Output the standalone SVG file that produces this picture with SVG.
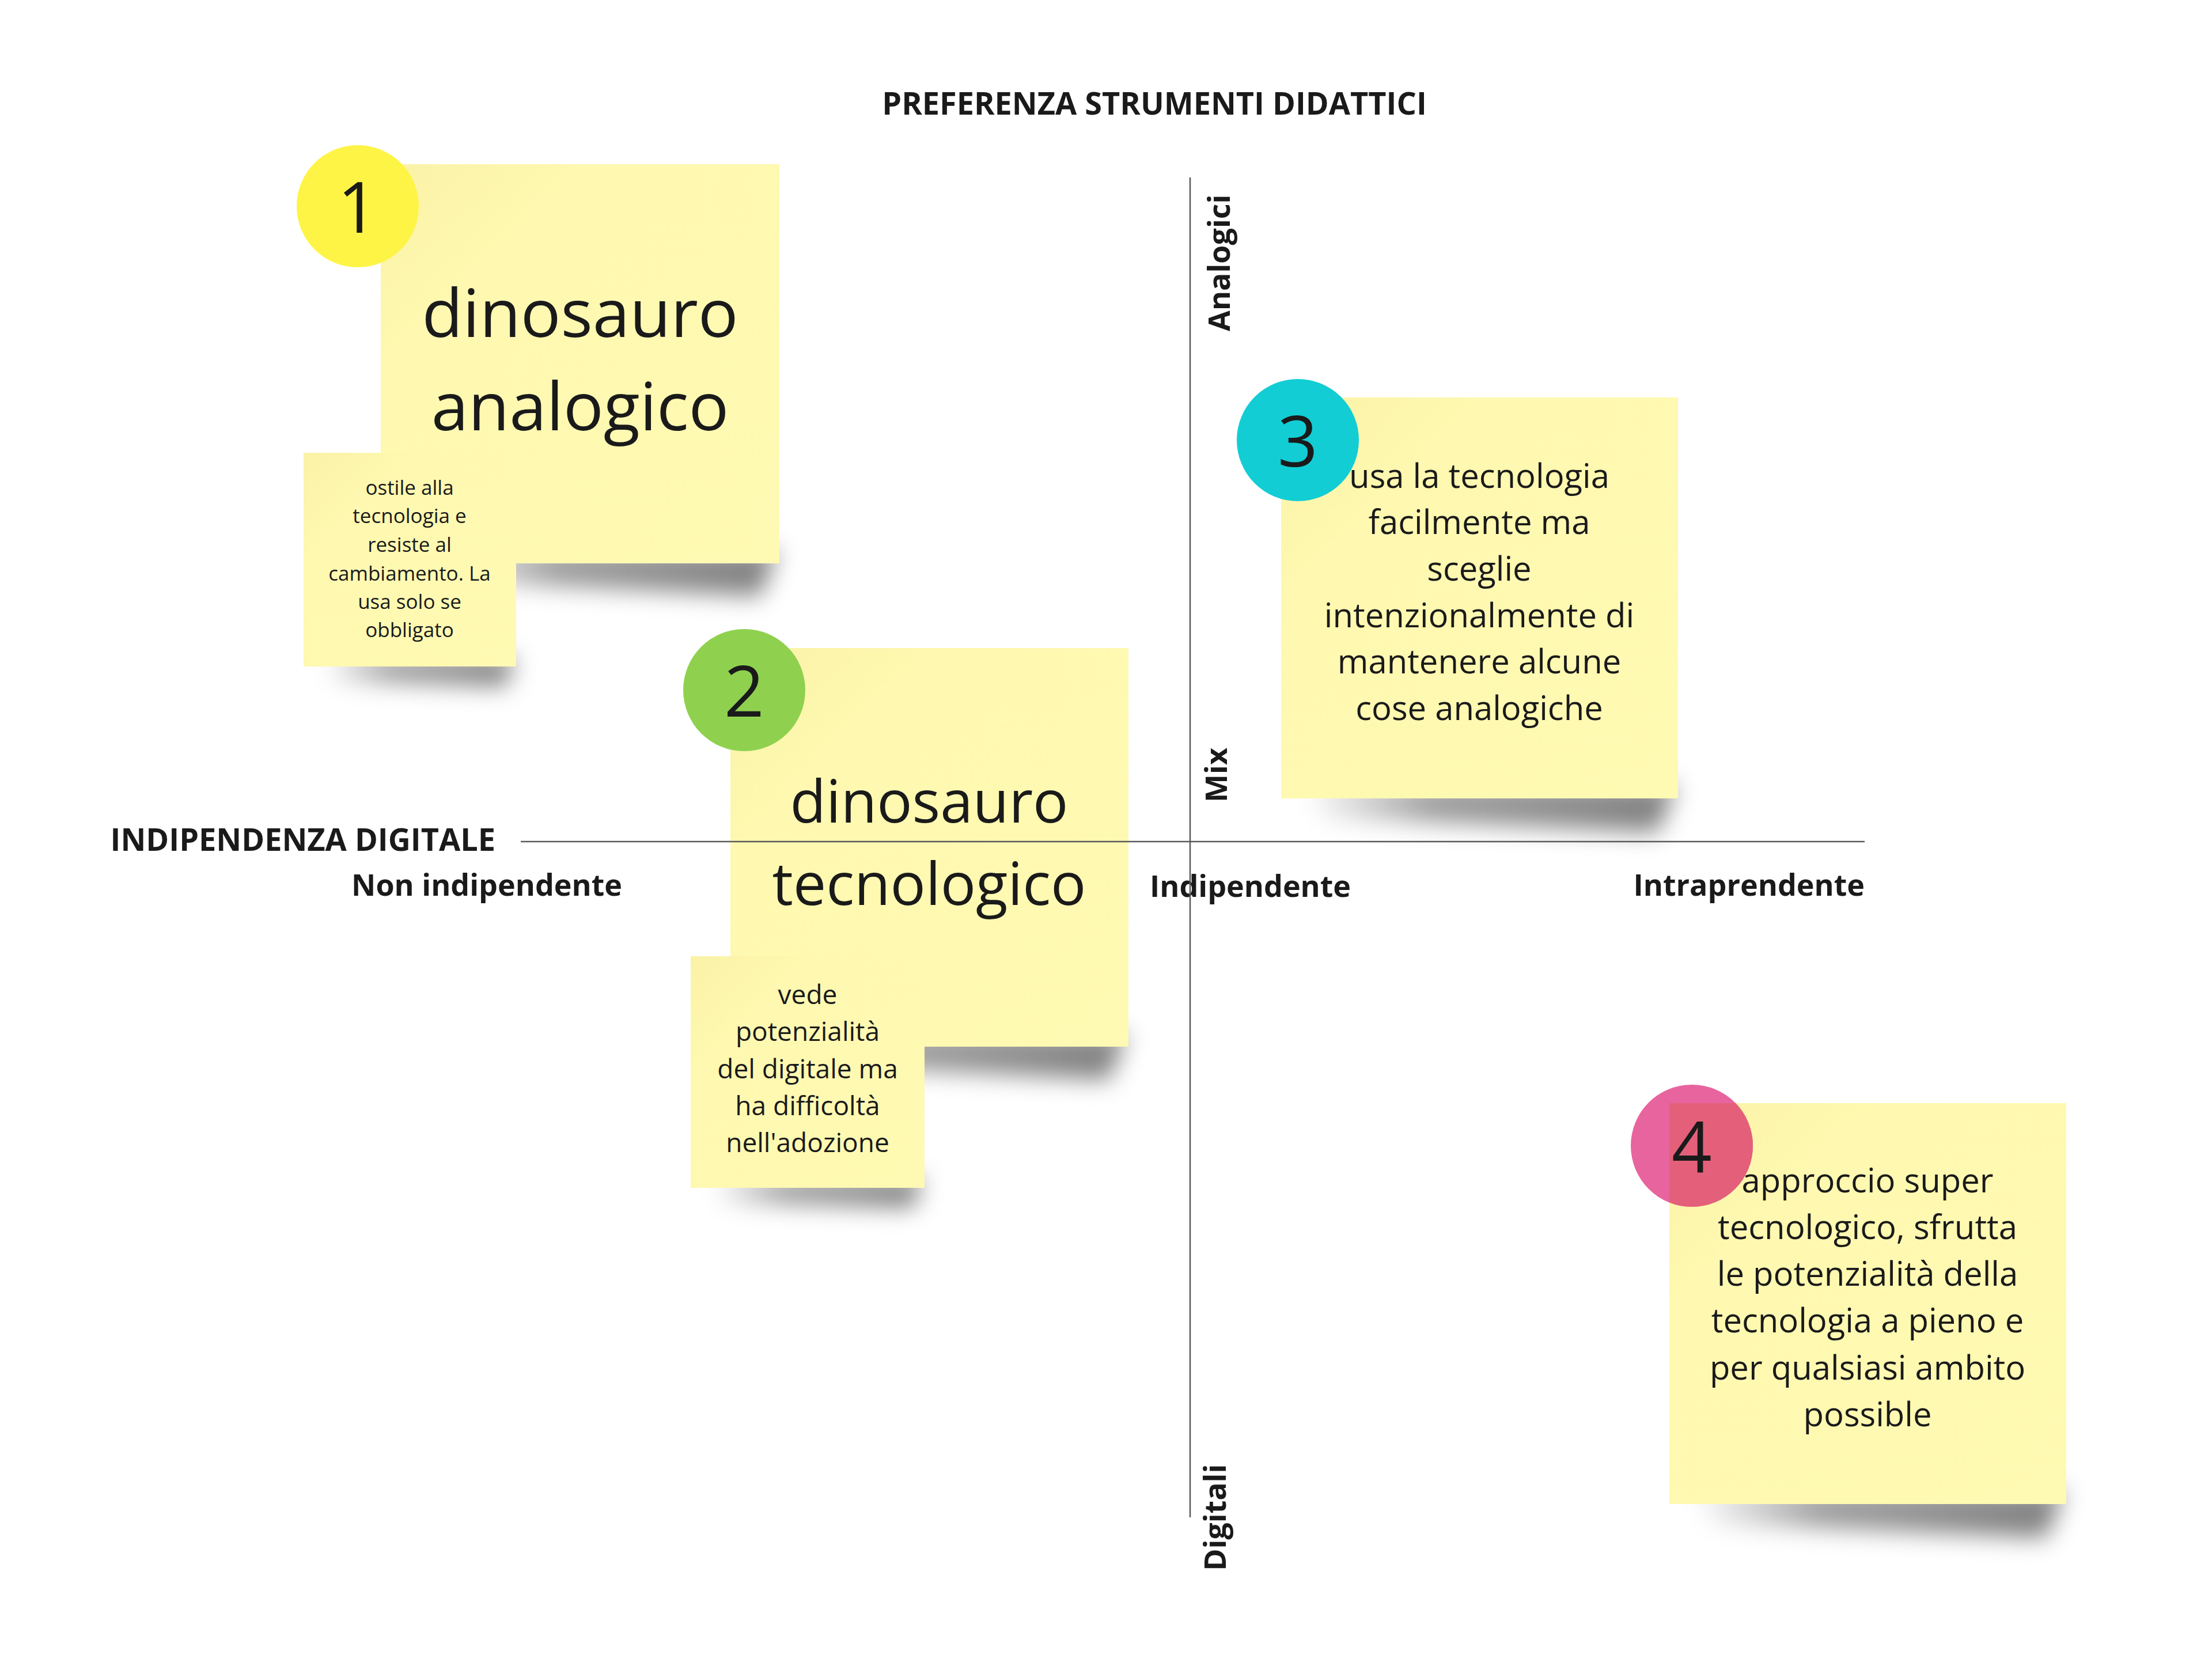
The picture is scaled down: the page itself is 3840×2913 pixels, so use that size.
<svg xmlns="http://www.w3.org/2000/svg" width="3840" height="2913" viewBox="0 0 3840 2913">
<style>
.note{fill:url(#noteFill)}
.shadow{fill:url(#shadowFill);filter:url(#blur)}
.t{font-family:"Open Sans","Liberation Sans",sans-serif;fill:#1a1a1a;text-anchor:middle}
.b{font-family:"Open Sans","Liberation Sans",sans-serif;font-weight:700;fill:#1a1a1a;font-size:52px}
.up{font-size:54px}
.num{font-family:"Open Sans","Liberation Sans",sans-serif;fill:#1a1a1a;font-size:122px;text-anchor:middle}
.axis{stroke:#5a5a5a;stroke-width:2.5;fill:none}
</style>
<defs>
<linearGradient id="noteFill" x1="0" y1="0" x2="1" y2="1">
<stop offset="0" stop-color="#FAF2A6"/>
<stop offset="0.25" stop-color="#FEF8B0"/>
<stop offset="1" stop-color="#FFFAB3"/>
</linearGradient>
<linearGradient id="shadowFill" x1="0" y1="0" x2="1" y2="0">
<stop offset="0" stop-color="#000" stop-opacity="0"/>
<stop offset="0.35" stop-color="#000" stop-opacity="0.38"/>
<stop offset="1" stop-color="#000" stop-opacity="0.5"/>
</linearGradient>
<filter id="blur" x="-20%" y="-150%" width="140%" height="400%">
<feGaussianBlur stdDeviation="20"/>
</filter>
<clipPath id="clip4"><rect x="2898" y="1915" width="689" height="696"/></clipPath>
</defs>
<rect width="3840" height="2913" fill="#fff"/>

<g id="title">
<text class="b up" x="2004" y="199" text-anchor="middle">PREFERENZA STRUMENTI DIDATTICI</text>
</g>

<g id="axis-labels">
<text class="b up" x="860" y="1477" text-anchor="end">INDIPENDENZA DIGITALE</text>
<text class="b" x="1080" y="1555" text-anchor="end">Non indipendente</text>
<text class="b" x="1996" y="1557">Indipendente</text>
<text class="b" x="3237" y="1555" text-anchor="end">Intraprendente</text>
<text class="b" transform="translate(2135,575) rotate(-90)">Analogici</text>
<text class="b" transform="translate(2130,1393) rotate(-90)">Mix</text>
<text class="b" transform="translate(2128,2727) rotate(-90)">Digitali</text>
</g>

<g id="node-1">
<path class="shadow" d="M760 955 L1350 955 L1320 1035 L800 1010 Z"/>
<rect class="note" x="661" y="285" width="692" height="693"/>
<text class="t" font-size="116"><tspan x="1007" y="585">dinosauro</tspan><tspan x="1007" y="747">analogico</tspan></text>
<circle cx="621" cy="358" r="106" fill="#FEF445"/>
<text class="num" x="621" y="404">1</text>
</g>

<g id="node-1-note">
<path class="shadow" d="M560 1140 L894 1140 L878 1192 L585 1182 Z"/>
<rect class="note" x="527" y="786" width="369" height="371"/>
<text class="t" font-size="35"><tspan x="711" y="859">ostile alla</tspan><tspan x="711" y="908">tecnologia e</tspan><tspan x="711" y="958">resiste al</tspan><tspan x="711" y="1008">cambiamento. La</tspan><tspan x="711" y="1057">usa solo se</tspan><tspan x="711" y="1106">obbligato</tspan></text>
</g>

<g id="node-2">
<path class="shadow" d="M1370 1795 L1956 1795 L1925 1875 L1410 1850 Z"/>
<rect class="note" x="1268" y="1125" width="691" height="692"/>
<text class="t" font-size="102"><tspan x="1613" y="1428">dinosauro</tspan><tspan x="1613" y="1571">tecnologico</tspan></text>
<circle cx="1292" cy="1198" r="106" fill="#8FD14F"/>
<text class="num" x="1292" y="1244">2</text>
</g>

<g id="node-2-note">
<path class="shadow" d="M1235 2045 L1602 2045 L1585 2097 L1260 2088 Z"/>
<rect class="note" x="1199" y="1660" width="406" height="402"/>
<text class="t" font-size="46"><tspan x="1402" y="1743">vede</tspan><tspan x="1402" y="1807">potenzialità</tspan><tspan x="1402" y="1872">del digitale ma</tspan><tspan x="1402" y="1936">ha difficoltà</tspan><tspan x="1402" y="2000">nell'adozione</tspan></text>
</g>

<g id="node-3">
<path class="shadow" d="M2260 1363 L2910 1363 L2878 1445 L2300 1420 Z"/>
<rect class="note" x="2224" y="690" width="689" height="696"/>
<text class="t" font-size="58"><tspan x="2568" y="847">usa la tecnologia</tspan><tspan x="2568" y="927">facilmente ma</tspan><tspan x="2568" y="1008">sceglie</tspan><tspan x="2568" y="1089">intenzionalmente di</tspan><tspan x="2568" y="1169">mantenere alcune</tspan><tspan x="2568" y="1250">cose analogiche</tspan></text>
<circle cx="2253" cy="764" r="106" fill="#12CDD4"/>
<text class="num" x="2253" y="810">3</text>
</g>

<g id="node-4">
<path class="shadow" d="M2935 2588 L3584 2588 L3552 2670 L2975 2645 Z"/>
<rect class="note" x="2898" y="1915" width="689" height="696"/>
<text class="t" font-size="58"><tspan x="3242" y="2070">approccio super</tspan><tspan x="3242" y="2151">tecnologico, sfrutta</tspan><tspan x="3242" y="2232">le potenzialità della</tspan><tspan x="3242" y="2313">tecnologia a pieno e</tspan><tspan x="3242" y="2395">per qualsiasi ambito</tspan><tspan x="3242" y="2476">possible</tspan></text>
<circle cx="2937" cy="1989" r="106" fill="#E8649E"/>
<circle cx="2937" cy="1989" r="106" fill="#E4607A" clip-path="url(#clip4)"/>
<text class="num" x="2937" y="2035">4</text>
</g>

<g id="connectors">
<line class="axis" x1="904" y1="1461" x2="3237" y2="1461"/>
<line class="axis" x1="2066" y1="308" x2="2066" y2="2634"/>
</g>
</svg>
